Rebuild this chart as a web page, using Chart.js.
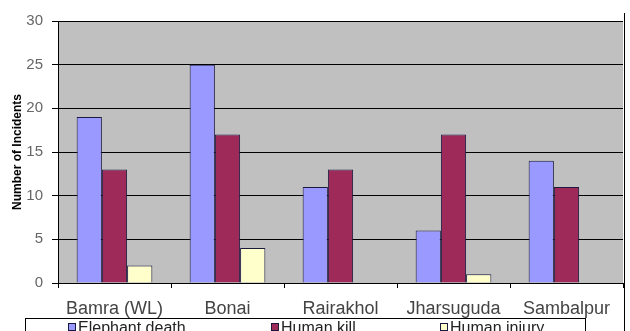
<!DOCTYPE html>
<html>
<head>
<meta charset="utf-8">
<script src="https://cdn.jsdelivr.net/npm/chart.js@4.4.1/dist/chart.umd.min.js"></script>
<style>
  html, body { margin: 0; padding: 0; background: #fff; }
  #wrap { width: 630px; height: 331px; position: relative; }
</style>
</head>
<body>
<div id="wrap"><canvas id="myChart" width="630" height="331"></canvas></div>
<script>
// data
var districts = ['Bamra (WL)', 'Bonai', 'Rairakhol', 'Jharsuguda', 'Sambalpur'];
var elephantDeath = [19, 25, 11, 6, 14];
var humanKill = [13, 17, 13, 17, 11];
var humanInjury = [2, 4, 0, 1, 0];
var yTicks = [0, 5, 10, 15, 20, 25, 30];

var FONT = "'Liberation Sans', Arial, sans-serif";

// gray plot area + frame line on the right
var plotBg = {
  id: 'plotBg',
  beforeDraw: function(chart) {
    var a = chart.chartArea, ctx = chart.ctx;
    ctx.save();
    ctx.fillStyle = '#c0c0c0';
    ctx.fillRect(a.left, a.top, a.right - a.left, a.bottom - a.top);
    ctx.restore();
  },
  afterDraw: function(chart) {
    var ctx = chart.ctx;
    ctx.save();
    ctx.strokeStyle = '#000';
    ctx.lineWidth = 1;
    ctx.beginPath();
    ctx.moveTo(624.5, 13);
    ctx.lineTo(624.5, 331);
    ctx.stroke();
    ctx.restore();
  }
};

// boxed legend like the spreadsheet one
var boxLegend = {
  id: 'boxLegend',
  afterDraw: function(chart) {
    var ctx = chart.ctx;
    var xs = [68, 271, 440];
    ctx.save();
    ctx.strokeStyle = '#000';
    ctx.lineWidth = 1;
    ctx.strokeRect(25.5, 318.5, 560, 30);
    ctx.font = '16px ' + FONT;
    ctx.textBaseline = 'alphabetic';
    chart.data.datasets.forEach(function(ds, i) {
      ctx.fillStyle = ds.backgroundColor;
      ctx.fillRect(xs[i], 323, 8, 8);
      ctx.strokeStyle = '#1a1a40';
      ctx.strokeRect(xs[i] + 0.5, 323.5, 7, 7);
      ctx.fillStyle = '#222';
      ctx.fillText(ds.label, xs[i] + 10, 333);
    });
    ctx.restore();
  }
};

var ctx = document.getElementById('myChart').getContext('2d');
var chart = new Chart(ctx, {
  type: 'bar',
  data: {
    labels: districts,
    datasets: [
      { label: 'Elephant death', data: elephantDeath, backgroundColor: '#9999ff', borderColor: '#1a1a40', borderWidth: 1 },
      { label: 'Human kill', data: humanKill, backgroundColor: '#9e2a5a', borderColor: '#1a1a40', borderWidth: 1 },
      { label: 'Human injury', data: humanInjury, backgroundColor: '#ffffcc', borderColor: '#1a1a40', borderWidth: 1 }
    ]
  },
  options: {
    responsive: false,
    animation: false,
    layout: { padding: { left: 0, right: 7, top: 21, bottom: 13 } },
    plugins: {
      legend: { display: false },
      tooltip: { enabled: false }
    },
    datasets: { bar: { categoryPercentage: 0.67, barPercentage: 1 } },
    scales: {
      x: {
        afterFit: function(s) { s.height = 35; },
        grid: { offset: true, drawOnChartArea: false, drawTicks: true, tickLength: 5, color: '#000' },
        border: { color: '#000' },
        ticks: { color: '#444', font: { family: FONT, size: 18 }, padding: 10, maxRotation: 0 }
      },
      y: {
        min: 0,
        max: 30,
        afterFit: function(s) { s.width = 58; },
        afterBuildTicks: function(s) { s.ticks = yTicks.map(function(v) { return { value: v }; }); },
        grid: { color: '#000', tickLength: 6, drawTicks: true },
        border: { color: '#000' },
        ticks: { color: '#666', font: { family: FONT, size: 15 }, padding: 9 },
        title: {
          display: true,
          text: 'Number of Incidents',
          color: '#000',
          font: { family: FONT, size: 12, weight: 'bold' },
          padding: { top: 10, bottom: 0 }
        }
      }
    }
  },
  plugins: [plotBg, boxLegend]
});
</script>
</body>
</html>
